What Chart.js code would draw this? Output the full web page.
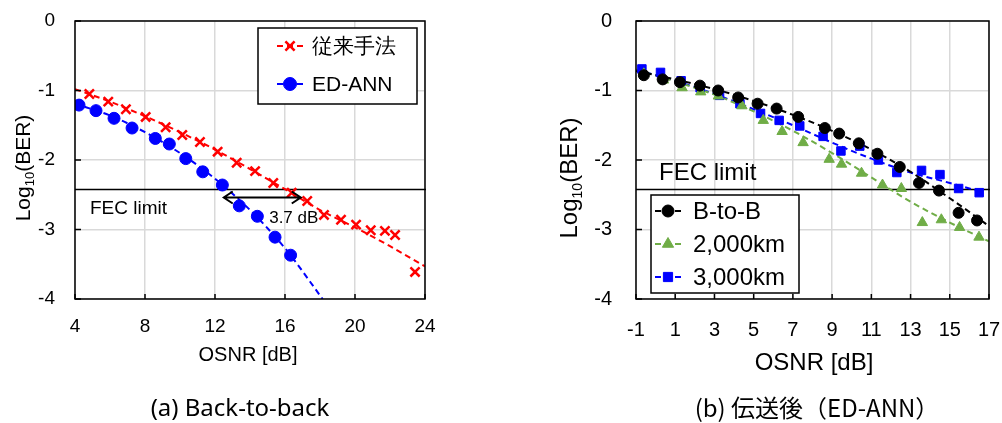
<!DOCTYPE html>
<html>
<head>
<meta charset="utf-8">
<script src="https://cdn.jsdelivr.net/npm/chart.js@4"></script>
<style>
  html, body { margin: 0; padding: 0; background: #fff; }
  #wrap { position: relative; width: 1002px; height: 423px; overflow: hidden; }
  #leftChart { position: absolute; left: 0; top: 0; }
  #rightChart { position: absolute; left: 490px; top: 0; }
</style>
</head>
<body>
<div id="wrap">
  <canvas id="leftChart" width="490" height="423"></canvas>
  <canvas id="rightChart" width="512" height="423"></canvas>
</div>
<script>
/* ---------- DATA: (a) back-to-back ---------- */
const convOsnr = [4.82, 5.90, 6.91, 8.04, 9.18, 10.13, 11.14, 12.15, 13.24, 14.29, 15.33, 16.38, 17.27, 18.23, 19.20, 20.06, 20.90, 21.71, 22.29, 23.43];
const convBer  = [-1.05, -1.16, -1.27, -1.38, -1.53, -1.64, -1.74, -1.88, -2.04, -2.16, -2.33, -2.47, -2.59, -2.79, -2.86, -2.93, -3.01, -3.02, -3.08, -3.61];
const annOsnr  = [4.23, 5.20, 6.23, 7.26, 8.59, 9.39, 10.33, 11.30, 12.42, 13.39, 14.42, 15.43, 16.32];
const annBer   = [-1.21, -1.29, -1.40, -1.54, -1.69, -1.77, -1.98, -2.17, -2.36, -2.66, -2.81, -3.11, -3.37];

// dashed fit curves
const convFitX = [4, 6, 8, 10, 12, 14, 16, 18, 20, 22, 24];
const convFitY = [-0.98, -1.16, -1.37, -1.60, -1.85, -2.13, -2.42, -2.72, -2.97, -3.24, -3.53];
const annFitX  = [4, 6, 8, 10, 12, 14, 16, 18.15];
const annFitY  = [-1.19, -1.36, -1.60, -1.90, -2.27, -2.72, -3.27, -4.0];

/* ---------- DATA: (b) after transmission ---------- */
const b2bOsnr = [-0.6, 0.36, 1.24, 2.26, 3.19, 4.21, 5.20, 6.17, 7.27, 8.63, 9.36, 10.36, 11.31, 12.45, 13.43, 14.45, 15.45, 16.39];
const b2bBer  = [-0.78, -0.84, -0.88, -0.93, -1.00, -1.10, -1.19, -1.26, -1.38, -1.54, -1.62, -1.76, -1.91, -2.10, -2.33, -2.44, -2.76, -2.87];
const km2Osnr = [-0.6, 0.40, 1.35, 2.30, 3.20, 4.40, 5.49, 6.45, 7.52, 8.85, 9.48, 10.50, 11.57, 12.53, 13.60, 14.57, 15.50, 16.49];
const km2Ber  = [-0.76, -0.85, -0.96, -1.02, -1.08, -1.22, -1.43, -1.59, -1.75, -1.99, -2.06, -2.19, -2.36, -2.41, -2.90, -2.86, -2.97, -3.11];
const km3Osnr = [-0.7, 0.25, 1.30, 2.27, 3.26, 4.30, 5.35, 6.30, 7.35, 8.54, 9.45, 10.41, 11.36, 12.30, 13.56, 14.50, 15.45, 16.50];
const km3Ber  = [-0.69, -0.74, -0.86, -0.96, -1.07, -1.19, -1.33, -1.43, -1.51, -1.66, -1.87, -1.80, -2.00, -2.18, -2.15, -2.21, -2.41, -2.47];

const fitXb   = [-1, 1, 3, 5, 7, 9, 11, 13, 15, 17];
const b2bFitY = [-0.72, -0.84, -0.98, -1.15, -1.35, -1.58, -1.85, -2.17, -2.55, -2.95];
const km2FitY = [-0.70, -0.87, -1.06, -1.30, -1.58, -1.90, -2.25, -2.60, -2.90, -3.17];
const km3FitX = [-1, 1, 3, 5, 7, 9, 11, 13, 15, 16.5];
const km3FitY = [-0.70, -0.86, -1.05, -1.27, -1.50, -1.75, -1.98, -2.18, -2.33, -2.45];

const FEC_LIMIT = -2.42;

const xTicksA = [4, 8, 12, 16, 20, 24];
const xTicksB = [-1, 1, 3, 5, 7, 9, 11, 13, 15, 17];
const yTicks  = [0, -1, -2, -3, -4];

/* ---------- STYLE ---------- */
const FONT = '"Liberation Sans", Arial, sans-serif';
const RED = "#ff0000", BLUE = "#0000ff", BLACK = "#000000", GREEN = "#70ad47";
const GRID = "#d9d9d9";

const pts = (xs, ys) => xs.map((x, i) => ({ x: x, y: ys[i] }));

function markers(label, xs, ys, color, style, r) {
    return {
        label: label, data: pts(xs, ys), showLine: false,
        pointStyle: style, pointRadius: r,
        pointBackgroundColor: color, pointBorderColor: color,
        pointBorderWidth: style === "crossRot" ? 2.5 : 1
    };
}
function fit(xs, ys, color) {
    return {
        data: pts(xs, ys), showLine: true, pointRadius: 0,
        borderColor: color, borderWidth: 2, borderDash: [6, 4],
        tension: 0.4, cubicInterpolationMode: "monotone"
    };
}

/* ---------- decoration plugin (frame, FEC line, legend, titles) ---------- */
function decor(o) {
    return {
        id: "decor",
        beforeDatasetsDraw(chart) {
            const { ctx, chartArea: a, scales: { y } } = chart;
            const fy = Math.round(y.getPixelForValue(FEC_LIMIT)) + 0.5;
            ctx.save();
            ctx.strokeStyle = "#000"; ctx.lineWidth = 1.5;
            ctx.beginPath(); ctx.moveTo(a.left, fy); ctx.lineTo(a.right + 1, fy); ctx.stroke();
            ctx.fillStyle = "#000";
            ctx.font = o.fecFont + "px " + FONT;
            ctx.textBaseline = "middle";
            ctx.fillText("FEC limit", a.left + o.fecDx, fy + o.fecDy);
            ctx.restore();
        },
        afterDatasetsDraw(chart) {
            const { ctx, chartArea: a, scales: { x, y } } = chart;
            ctx.save();
            // inside tick marks
            ctx.strokeStyle = "#000"; ctx.lineWidth = 1.5;
            ctx.beginPath();
            x.ticks.forEach(t => {
                const px = x.getPixelForValue(t.value);
                ctx.moveTo(px, a.bottom); ctx.lineTo(px, a.bottom - 5);
            });
            y.ticks.forEach(t => {
                const py = y.getPixelForValue(t.value);
                ctx.moveTo(a.left, py); ctx.lineTo(a.left + 6, py);
            });
            ctx.stroke();
            // frame
            ctx.lineWidth = 1.5;
            ctx.strokeRect(a.left, a.top, a.right - a.left, a.bottom - a.top);

            // arrow (a)
            if (o.arrow) {
                const x1 = x.getPixelForValue(o.arrow.from), x2 = x.getPixelForValue(o.arrow.to);
                const ay = y.getPixelForValue(o.arrow.y);
                ctx.lineWidth = 2;
                ctx.beginPath();
                ctx.moveTo(x1, ay); ctx.lineTo(x2, ay);
                ctx.moveTo(x1 + 9, ay - 6); ctx.lineTo(x1, ay); ctx.lineTo(x1 + 9, ay + 6);
                ctx.moveTo(x2 - 9, ay - 6); ctx.lineTo(x2, ay); ctx.lineTo(x2 - 9, ay + 6);
                ctx.stroke();
                ctx.fillStyle = "#000";
                ctx.font = "17px " + FONT;
                ctx.textAlign = "center"; ctx.textBaseline = "middle";
                ctx.fillText(o.arrow.text, x.getPixelForValue(o.arrow.tx), y.getPixelForValue(o.arrow.ty));
            }

            // legend
            const L = o.legend;
            ctx.fillStyle = "#fff";
            ctx.fillRect(L.x, L.y, L.w, L.h);
            ctx.strokeStyle = "#000"; ctx.lineWidth = 1.5;
            ctx.strokeRect(L.x, L.y, L.w, L.h);
            ctx.font = L.font + "px " + FONT;
            ctx.textAlign = "left"; ctx.textBaseline = "middle";
            L.items.forEach((it, i) => {
                const ly = L.y + L.first + i * L.step;
                ctx.strokeStyle = it.color; ctx.lineWidth = 2; ctx.setLineDash([6, 4]);
                ctx.beginPath(); ctx.moveTo(L.x + L.lineX0, ly); ctx.lineTo(L.x + L.lineX1, ly); ctx.stroke();
                ctx.setLineDash([]);
                ctx.fillStyle = it.color;
                ctx.lineWidth = it.style === "crossRot" ? 2.5 : 1;
                Chart.helpers.drawPoint(ctx, { pointStyle: it.style, radius: it.r, rotation: 0, borderWidth: ctx.lineWidth },
                    L.x + (L.lineX0 + L.lineX1) / 2, ly);
                ctx.fillStyle = "#000";
                ctx.fillText(it.text, L.x + L.textX, ly + 1);
            });

            // axis titles
            ctx.fillStyle = "#000";
            ctx.font = o.xTitleFont + "px " + FONT;
            ctx.textAlign = "center"; ctx.textBaseline = "middle";
            ctx.fillText("OSNR [dB]", o.xTitle[0], o.xTitle[1]);

            // y title with subscript, rotated
            ctx.save();
            ctx.translate(o.yTitle[0], o.yTitle[1]);
            ctx.rotate(-Math.PI / 2);
            const f = o.yTitleFont, fs = Math.round(f * 0.6);
            ctx.font = f + "px " + FONT;
            const w1 = ctx.measureText("Log").width, w3 = ctx.measureText("(BER)").width;
            ctx.font = fs + "px " + FONT;
            const w2 = ctx.measureText("10").width;
            let sx = -(w1 + w2 + w3) / 2;
            ctx.textAlign = "left"; ctx.textBaseline = "alphabetic";
            ctx.font = f + "px " + FONT;
            ctx.fillText("Log", sx, f * 0.36);
            ctx.font = fs + "px " + FONT;
            ctx.fillText("10", sx + w1, f * 0.36 + fs * 0.35);
            ctx.font = f + "px " + FONT;
            ctx.fillText("(BER)", sx + w1 + w2, f * 0.36);
            ctx.restore();

            // caption
            ctx.font = o.capFont;
            ctx.textAlign = "center"; ctx.textBaseline = "middle";
            ctx.fillText(o.caption, o.capPos[0], o.capPos[1]);
            ctx.restore();
        }
    };
}

function axes(xmin, xmax, xTicks, yW, tickFont, xPad, yPad) {
    return {
        x: {
            type: "linear", min: xmin, max: xmax,
            afterBuildTicks: s => { s.ticks = xTicks.map(v => ({ value: v })); },
            afterFit: s => { s.height = 124; s.paddingLeft = 0; s.paddingRight = 0; },
            ticks: { color: "#000", font: { family: FONT, size: tickFont }, padding: xPad, maxRotation: 0, autoSkip: false },
            grid: { color: GRID, lineWidth: 1.5, drawTicks: false },
            border: { display: false }
        },
        y: {
            type: "linear", min: -4, max: 0,
            afterBuildTicks: s => { s.ticks = yTicks.map(v => ({ value: v })); },
            afterFit: s => { s.width = yW; s.paddingTop = 0; s.paddingBottom = 0; },
            ticks: { color: "#000", font: { family: FONT, size: tickFont }, padding: yPad },
            grid: { color: GRID, lineWidth: 1.5, drawTicks: false },
            border: { display: false }
        }
    };
}

const common = {
    responsive: false,
    animation: false,
    devicePixelRatio: 1,
    plugins: { legend: { display: false }, tooltip: { enabled: false } }
};

/* ---------- (a) Back-to-back ---------- */
new Chart(document.getElementById("leftChart"), {
    type: "scatter",
    data: {
        datasets: [
            markers("従来手法", convOsnr, convBer, RED, "crossRot", 6.5),
            markers("ED-ANN", annOsnr, annBer, BLUE, "circle", 6),
            fit(convFitX, convFitY, RED),
            fit(annFitX, annFitY, BLUE)
        ]
    },
    options: Object.assign({}, common, {
        layout: { padding: { left: 0, top: 21, right: 65, bottom: 0 } },
        scales: axes(4, 24, xTicksA, 75, 19, 16, 20)
    }),
    plugins: [decor({
        fecFont: 19, fecDx: 15, fecDy: 19,
        arrow: { from: 12.5, to: 16.9, y: -2.54, text: "3.7 dB", tx: 16.5, ty: -2.84 },
        legend: {
            x: 258, y: 28, w: 159, h: 76, font: 21, first: 18, step: 38,
            lineX0: 19, lineX1: 45, textX: 54,
            items: [
                { text: "従来手法", color: RED, style: "crossRot", r: 6.5 },
                { text: "ED-ANN", color: BLUE, style: "circle", r: 6.5 }
            ]
        },
        xTitle: [248, 355], xTitleFont: 20,
        yTitle: [22, 168], yTitleFont: 21,
        caption: "(a) Back-to-back", capFont: '24px "Noto Sans", sans-serif', capPos: [240, 409]
    })]
});

/* ---------- (b) after transmission (ED-ANN) ---------- */
new Chart(document.getElementById("rightChart"), {
    type: "scatter",
    data: {
        datasets: [
            markers("B-to-B", b2bOsnr, b2bBer, BLACK, "circle", 5.5),
            markers("2,000km", km2Osnr, km2Ber, GREEN, "triangle", 6),
            markers("3,000km", km3Osnr, km3Ber, BLUE, "rect", 6),
            fit(fitXb, b2bFitY, BLACK),
            fit(fitXb, km2FitY, GREEN),
            fit(km3FitX, km3FitY, BLUE)
        ]
    },
    options: Object.assign({}, common, {
        layout: { padding: { left: 0, top: 21, right: 13, bottom: 0 } },
        scales: axes(-1, 17, xTicksB, 146, 20, 19, 24)
    }),
    plugins: [decor({
        fecFont: 24, fecDx: 23, fecDy: -16,
        arrow: null,
        legend: {
            x: 161, y: 195, w: 148, h: 98, font: 24, first: 16, step: 33,
            lineX0: 4, lineX1: 30, textX: 42,
            items: [
                { text: "B-to-B", color: BLACK, style: "circle", r: 6 },
                { text: "2,000km", color: GREEN, style: "triangle", r: 6.5 },
                { text: "3,000km", color: BLUE, style: "rect", r: 6.5 }
            ]
        },
        xTitle: [324, 363], xTitleFont: 24,
        yTitle: [78, 178], yTitleFont: 24,
        caption: "(b) 伝送後（ED-ANN）", capFont: '24px "Noto Sans CJK JP", "Noto Sans", sans-serif', capPos: [327, 408]
    })]
});
</script>
</body>
</html>
